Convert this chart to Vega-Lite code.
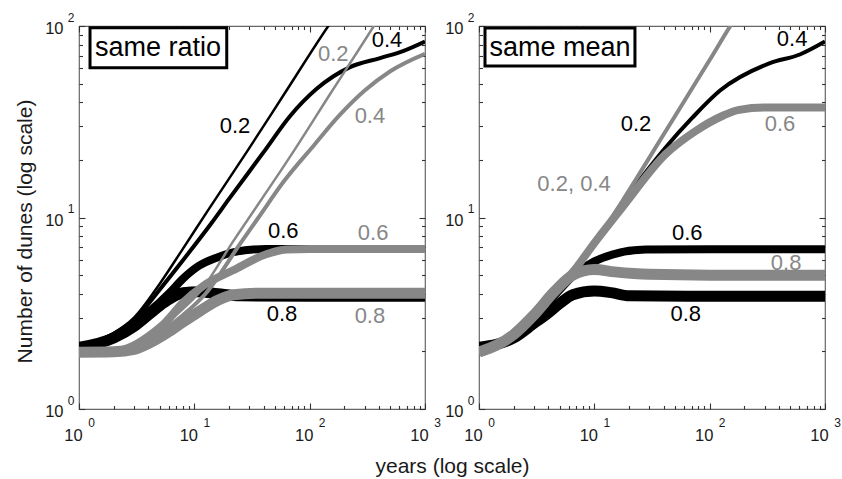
{
  "$schema": "https://vega.github.io/schema/vega-lite/v6.json",
  "background": "white",
  "padding": {"left": 13, "top": 10, "right": 0, "bottom": 0},
  "bounds": "flush",
  "spacing": 54,
  "config": {
    "font": "Liberation Sans",
    "view": {"stroke": "#666666", "strokeWidth": 1.2},
    "axis": {"grid": false, "domain": false, "labelColor": "#1a1a1a", "titleColor": "#1a1a1a", "tickColor": "#333333", "tickWidth": 1.1, "labelFlush": false, "labelOverlap": false, "labelBound": false}
  },
  "datasets": {
    "lines": [
      {"panel": "L", "group": "black", "ratio": "0.2", "x": 1, "y": 2.1},
      {"panel": "L", "group": "black", "ratio": "0.2", "x": 1.5, "y": 2.3},
      {"panel": "L", "group": "black", "ratio": "0.2", "x": 2, "y": 2.5},
      {"panel": "L", "group": "black", "ratio": "0.2", "x": 3, "y": 3.0},
      {"panel": "L", "group": "black", "ratio": "0.2", "x": 5, "y": 4.5},
      {"panel": "L", "group": "black", "ratio": "0.2", "x": 8, "y": 6.9},
      {"panel": "L", "group": "black", "ratio": "0.2", "x": 13, "y": 10.8},
      {"panel": "L", "group": "black", "ratio": "0.2", "x": 28.5, "y": 22},
      {"panel": "L", "group": "black", "ratio": "0.2", "x": 60, "y": 44},
      {"panel": "L", "group": "black", "ratio": "0.2", "x": 145, "y": 100},
      {"panel": "L", "group": "black", "ratio": "0.2", "x": 170, "y": 115},

      {"panel": "L", "group": "black", "ratio": "0.4", "x": 1, "y": 2.1},
      {"panel": "L", "group": "black", "ratio": "0.4", "x": 1.5, "y": 2.28},
      {"panel": "L", "group": "black", "ratio": "0.4", "x": 2, "y": 2.45},
      {"panel": "L", "group": "black", "ratio": "0.4", "x": 3, "y": 2.9},
      {"panel": "L", "group": "black", "ratio": "0.4", "x": 5, "y": 4.2},
      {"panel": "L", "group": "black", "ratio": "0.4", "x": 8, "y": 6.0},
      {"panel": "L", "group": "black", "ratio": "0.4", "x": 14, "y": 9.3},
      {"panel": "L", "group": "black", "ratio": "0.4", "x": 20, "y": 12.5},
      {"panel": "L", "group": "black", "ratio": "0.4", "x": 40, "y": 22},
      {"panel": "L", "group": "black", "ratio": "0.4", "x": 68, "y": 34},
      {"panel": "L", "group": "black", "ratio": "0.4", "x": 115, "y": 47},
      {"panel": "L", "group": "black", "ratio": "0.4", "x": 224, "y": 61},
      {"panel": "L", "group": "black", "ratio": "0.4", "x": 408, "y": 68},
      {"panel": "L", "group": "black", "ratio": "0.4", "x": 645, "y": 74},
      {"panel": "L", "group": "black", "ratio": "0.4", "x": 1000, "y": 83},

      {"panel": "L", "group": "black", "ratio": "0.6", "x": 1, "y": 2.1},
      {"panel": "L", "group": "black", "ratio": "0.6", "x": 2, "y": 2.4},
      {"panel": "L", "group": "black", "ratio": "0.6", "x": 3, "y": 2.8},
      {"panel": "L", "group": "black", "ratio": "0.6", "x": 4, "y": 3.2},
      {"panel": "L", "group": "black", "ratio": "0.6", "x": 6, "y": 4.0},
      {"panel": "L", "group": "black", "ratio": "0.6", "x": 8, "y": 4.8},
      {"panel": "L", "group": "black", "ratio": "0.6", "x": 11, "y": 5.6},
      {"panel": "L", "group": "black", "ratio": "0.6", "x": 16, "y": 6.2},
      {"panel": "L", "group": "black", "ratio": "0.6", "x": 22, "y": 6.6},
      {"panel": "L", "group": "black", "ratio": "0.6", "x": 42, "y": 6.85},
      {"panel": "L", "group": "black", "ratio": "0.6", "x": 100, "y": 6.85},
      {"panel": "L", "group": "black", "ratio": "0.6", "x": 1000, "y": 6.85},

      {"panel": "L", "group": "black", "ratio": "0.8", "x": 1, "y": 2.1},
      {"panel": "L", "group": "black", "ratio": "0.8", "x": 2, "y": 2.35},
      {"panel": "L", "group": "black", "ratio": "0.8", "x": 3, "y": 2.7},
      {"panel": "L", "group": "black", "ratio": "0.8", "x": 4, "y": 3.1},
      {"panel": "L", "group": "black", "ratio": "0.8", "x": 5.5, "y": 3.6},
      {"panel": "L", "group": "black", "ratio": "0.8", "x": 8, "y": 4.05},
      {"panel": "L", "group": "black", "ratio": "0.8", "x": 11, "y": 4.1},
      {"panel": "L", "group": "black", "ratio": "0.8", "x": 16, "y": 4.0},
      {"panel": "L", "group": "black", "ratio": "0.8", "x": 25, "y": 3.9},
      {"panel": "L", "group": "black", "ratio": "0.8", "x": 100, "y": 3.88},
      {"panel": "L", "group": "black", "ratio": "0.8", "x": 1000, "y": 3.88},

      {"panel": "L", "group": "gray", "ratio": "0.2", "x": 1, "y": 1.98},
      {"panel": "L", "group": "gray", "ratio": "0.2", "x": 2, "y": 2.0},
      {"panel": "L", "group": "gray", "ratio": "0.2", "x": 3, "y": 2.1},
      {"panel": "L", "group": "gray", "ratio": "0.2", "x": 5, "y": 2.55},
      {"panel": "L", "group": "gray", "ratio": "0.2", "x": 7, "y": 3.1},
      {"panel": "L", "group": "gray", "ratio": "0.2", "x": 11.2, "y": 4.1},
      {"panel": "L", "group": "gray", "ratio": "0.2", "x": 21.7, "y": 7.5},
      {"panel": "L", "group": "gray", "ratio": "0.2", "x": 72, "y": 22},
      {"panel": "L", "group": "gray", "ratio": "0.2", "x": 150, "y": 44},
      {"panel": "L", "group": "gray", "ratio": "0.2", "x": 360, "y": 100},
      {"panel": "L", "group": "gray", "ratio": "0.2", "x": 420, "y": 116},

      {"panel": "L", "group": "gray", "ratio": "0.4", "x": 1, "y": 1.98},
      {"panel": "L", "group": "gray", "ratio": "0.4", "x": 2, "y": 2.0},
      {"panel": "L", "group": "gray", "ratio": "0.4", "x": 3, "y": 2.1},
      {"panel": "L", "group": "gray", "ratio": "0.4", "x": 5, "y": 2.5},
      {"panel": "L", "group": "gray", "ratio": "0.4", "x": 8, "y": 3.1},
      {"panel": "L", "group": "gray", "ratio": "0.4", "x": 12.5, "y": 4.0},
      {"panel": "L", "group": "gray", "ratio": "0.4", "x": 25, "y": 7.3},
      {"panel": "L", "group": "gray", "ratio": "0.4", "x": 36, "y": 10},
      {"panel": "L", "group": "gray", "ratio": "0.4", "x": 60, "y": 15.5},
      {"panel": "L", "group": "gray", "ratio": "0.4", "x": 110, "y": 24},
      {"panel": "L", "group": "gray", "ratio": "0.4", "x": 180, "y": 34},
      {"panel": "L", "group": "gray", "ratio": "0.4", "x": 300, "y": 46},
      {"panel": "L", "group": "gray", "ratio": "0.4", "x": 500, "y": 58},
      {"panel": "L", "group": "gray", "ratio": "0.4", "x": 1000, "y": 71.5},

      {"panel": "L", "group": "gray", "ratio": "0.6", "x": 1, "y": 1.98},
      {"panel": "L", "group": "gray", "ratio": "0.6", "x": 2, "y": 2.0},
      {"panel": "L", "group": "gray", "ratio": "0.6", "x": 3, "y": 2.15},
      {"panel": "L", "group": "gray", "ratio": "0.6", "x": 4, "y": 2.4},
      {"panel": "L", "group": "gray", "ratio": "0.6", "x": 5.5, "y": 2.8},
      {"panel": "L", "group": "gray", "ratio": "0.6", "x": 8, "y": 3.6},
      {"panel": "L", "group": "gray", "ratio": "0.6", "x": 12, "y": 4.4},
      {"panel": "L", "group": "gray", "ratio": "0.6", "x": 21.7, "y": 5.3},
      {"panel": "L", "group": "gray", "ratio": "0.6", "x": 42.6, "y": 6.45},
      {"panel": "L", "group": "gray", "ratio": "0.6", "x": 63, "y": 6.8},
      {"panel": "L", "group": "gray", "ratio": "0.6", "x": 100, "y": 6.85},
      {"panel": "L", "group": "gray", "ratio": "0.6", "x": 1000, "y": 6.85},

      {"panel": "L", "group": "gray", "ratio": "0.8", "x": 1, "y": 1.98},
      {"panel": "L", "group": "gray", "ratio": "0.8", "x": 2, "y": 1.99},
      {"panel": "L", "group": "gray", "ratio": "0.8", "x": 3, "y": 2.05},
      {"panel": "L", "group": "gray", "ratio": "0.8", "x": 4, "y": 2.2},
      {"panel": "L", "group": "gray", "ratio": "0.8", "x": 5.8, "y": 2.5},
      {"panel": "L", "group": "gray", "ratio": "0.8", "x": 8, "y": 2.85},
      {"panel": "L", "group": "gray", "ratio": "0.8", "x": 11.2, "y": 3.25},
      {"panel": "L", "group": "gray", "ratio": "0.8", "x": 16, "y": 3.7},
      {"panel": "L", "group": "gray", "ratio": "0.8", "x": 22, "y": 3.95},
      {"panel": "L", "group": "gray", "ratio": "0.8", "x": 35, "y": 4.02},
      {"panel": "L", "group": "gray", "ratio": "0.8", "x": 100, "y": 4.02},
      {"panel": "L", "group": "gray", "ratio": "0.8", "x": 1000, "y": 4.02},

      {"panel": "R", "group": "black", "ratio": "0.2", "x": 1, "y": 2.05},
      {"panel": "R", "group": "black", "ratio": "0.2", "x": 2, "y": 2.45},
      {"panel": "R", "group": "black", "ratio": "0.2", "x": 3, "y": 3.1},
      {"panel": "R", "group": "black", "ratio": "0.2", "x": 4.5, "y": 4.1},
      {"panel": "R", "group": "black", "ratio": "0.2", "x": 6.45, "y": 5.15},
      {"panel": "R", "group": "black", "ratio": "0.2", "x": 10, "y": 7.3},
      {"panel": "R", "group": "black", "ratio": "0.2", "x": 17.5, "y": 12.2},
      {"panel": "R", "group": "black", "ratio": "0.2", "x": 40, "y": 27.2},
      {"panel": "R", "group": "black", "ratio": "0.2", "x": 98.7, "y": 65.6},
      {"panel": "R", "group": "black", "ratio": "0.2", "x": 151, "y": 100},
      {"panel": "R", "group": "black", "ratio": "0.2", "x": 170, "y": 112},

      {"panel": "R", "group": "black", "ratio": "0.4", "x": 1, "y": 2.1},
      {"panel": "R", "group": "black", "ratio": "0.4", "x": 2, "y": 2.45},
      {"panel": "R", "group": "black", "ratio": "0.4", "x": 3, "y": 3.1},
      {"panel": "R", "group": "black", "ratio": "0.4", "x": 4.5, "y": 4.1},
      {"panel": "R", "group": "black", "ratio": "0.4", "x": 6.45, "y": 5.15},
      {"panel": "R", "group": "black", "ratio": "0.4", "x": 10, "y": 7.4},
      {"panel": "R", "group": "black", "ratio": "0.4", "x": 17.5, "y": 11.8},
      {"panel": "R", "group": "black", "ratio": "0.4", "x": 25, "y": 15.8},
      {"panel": "R", "group": "black", "ratio": "0.4", "x": 41.5, "y": 23.2},
      {"panel": "R", "group": "black", "ratio": "0.4", "x": 70.8, "y": 33.2},
      {"panel": "R", "group": "black", "ratio": "0.4", "x": 123, "y": 46},
      {"panel": "R", "group": "black", "ratio": "0.4", "x": 333, "y": 64},
      {"panel": "R", "group": "black", "ratio": "0.4", "x": 605, "y": 71},
      {"panel": "R", "group": "black", "ratio": "0.4", "x": 1000, "y": 83},

      {"panel": "R", "group": "black", "ratio": "0.6", "x": 1, "y": 2.1},
      {"panel": "R", "group": "black", "ratio": "0.6", "x": 2, "y": 2.4},
      {"panel": "R", "group": "black", "ratio": "0.6", "x": 3, "y": 3.0},
      {"panel": "R", "group": "black", "ratio": "0.6", "x": 4.5, "y": 3.9},
      {"panel": "R", "group": "black", "ratio": "0.6", "x": 6.9, "y": 5.1},
      {"panel": "R", "group": "black", "ratio": "0.6", "x": 10, "y": 5.9},
      {"panel": "R", "group": "black", "ratio": "0.6", "x": 14.3, "y": 6.4},
      {"panel": "R", "group": "black", "ratio": "0.6", "x": 28, "y": 6.8},
      {"panel": "R", "group": "black", "ratio": "0.6", "x": 100, "y": 6.82},
      {"panel": "R", "group": "black", "ratio": "0.6", "x": 1000, "y": 6.82},

      {"panel": "R", "group": "black", "ratio": "0.8", "x": 1, "y": 2.1},
      {"panel": "R", "group": "black", "ratio": "0.8", "x": 2, "y": 2.35},
      {"panel": "R", "group": "black", "ratio": "0.8", "x": 3, "y": 2.8},
      {"panel": "R", "group": "black", "ratio": "0.8", "x": 3.8, "y": 3.1},
      {"panel": "R", "group": "black", "ratio": "0.8", "x": 5, "y": 3.55},
      {"panel": "R", "group": "black", "ratio": "0.8", "x": 6.5, "y": 3.95},
      {"panel": "R", "group": "black", "ratio": "0.8", "x": 10, "y": 4.13},
      {"panel": "R", "group": "black", "ratio": "0.8", "x": 14, "y": 4.05},
      {"panel": "R", "group": "black", "ratio": "0.8", "x": 20, "y": 3.9},
      {"panel": "R", "group": "black", "ratio": "0.8", "x": 100, "y": 3.88},
      {"panel": "R", "group": "black", "ratio": "0.8", "x": 1000, "y": 3.88},

      {"panel": "R", "group": "gray", "ratio": "0.2", "x": 1, "y": 1.98},
      {"panel": "R", "group": "gray", "ratio": "0.2", "x": 2, "y": 2.45},
      {"panel": "R", "group": "gray", "ratio": "0.2", "x": 3, "y": 3.1},
      {"panel": "R", "group": "gray", "ratio": "0.2", "x": 4.5, "y": 4.1},
      {"panel": "R", "group": "gray", "ratio": "0.2", "x": 6.45, "y": 5.15},
      {"panel": "R", "group": "gray", "ratio": "0.2", "x": 10, "y": 7.3},
      {"panel": "R", "group": "gray", "ratio": "0.2", "x": 17.5, "y": 12.2},
      {"panel": "R", "group": "gray", "ratio": "0.2", "x": 40, "y": 27.2},
      {"panel": "R", "group": "gray", "ratio": "0.2", "x": 98.7, "y": 65.6},
      {"panel": "R", "group": "gray", "ratio": "0.2", "x": 151, "y": 100},
      {"panel": "R", "group": "gray", "ratio": "0.2", "x": 170, "y": 112},

      {"panel": "R", "group": "gray", "ratio": "0.4", "x": 1, "y": 1.98},
      {"panel": "R", "group": "gray", "ratio": "0.4", "x": 2, "y": 2.45},
      {"panel": "R", "group": "gray", "ratio": "0.4", "x": 3, "y": 3.1},
      {"panel": "R", "group": "gray", "ratio": "0.4", "x": 4.5, "y": 4.1},
      {"panel": "R", "group": "gray", "ratio": "0.4", "x": 6.45, "y": 5.15},
      {"panel": "R", "group": "gray", "ratio": "0.4", "x": 10, "y": 7.3},
      {"panel": "R", "group": "gray", "ratio": "0.4", "x": 17.5, "y": 12.2},
      {"panel": "R", "group": "gray", "ratio": "0.4", "x": 40, "y": 27.2},
      {"panel": "R", "group": "gray", "ratio": "0.4", "x": 98.7, "y": 65.6},
      {"panel": "R", "group": "gray", "ratio": "0.4", "x": 151, "y": 100},
      {"panel": "R", "group": "gray", "ratio": "0.4", "x": 170, "y": 112},

      {"panel": "R", "group": "gray", "ratio": "0.6", "x": 1, "y": 1.98},
      {"panel": "R", "group": "gray", "ratio": "0.6", "x": 2, "y": 2.45},
      {"panel": "R", "group": "gray", "ratio": "0.6", "x": 3, "y": 3.1},
      {"panel": "R", "group": "gray", "ratio": "0.6", "x": 4.5, "y": 4.1},
      {"panel": "R", "group": "gray", "ratio": "0.6", "x": 6.45, "y": 5.15},
      {"panel": "R", "group": "gray", "ratio": "0.6", "x": 10, "y": 7.35},
      {"panel": "R", "group": "gray", "ratio": "0.6", "x": 17.5, "y": 11.3},
      {"panel": "R", "group": "gray", "ratio": "0.6", "x": 41.5, "y": 21.4},
      {"panel": "R", "group": "gray", "ratio": "0.6", "x": 75.6, "y": 28.3},
      {"panel": "R", "group": "gray", "ratio": "0.6", "x": 130, "y": 34},
      {"panel": "R", "group": "gray", "ratio": "0.6", "x": 180, "y": 36.5},
      {"panel": "R", "group": "gray", "ratio": "0.6", "x": 300, "y": 37.5},
      {"panel": "R", "group": "gray", "ratio": "0.6", "x": 1000, "y": 37.5},

      {"panel": "R", "group": "gray", "ratio": "0.8", "x": 1, "y": 1.98},
      {"panel": "R", "group": "gray", "ratio": "0.8", "x": 2, "y": 2.45},
      {"panel": "R", "group": "gray", "ratio": "0.8", "x": 3, "y": 3.1},
      {"panel": "R", "group": "gray", "ratio": "0.8", "x": 4.5, "y": 4.1},
      {"panel": "R", "group": "gray", "ratio": "0.8", "x": 6.5, "y": 5.0},
      {"panel": "R", "group": "gray", "ratio": "0.8", "x": 10, "y": 5.35},
      {"panel": "R", "group": "gray", "ratio": "0.8", "x": 15, "y": 5.2},
      {"panel": "R", "group": "gray", "ratio": "0.8", "x": 30, "y": 5.05},
      {"panel": "R", "group": "gray", "ratio": "0.8", "x": 100, "y": 5.0},
      {"panel": "R", "group": "gray", "ratio": "0.8", "x": 1000, "y": 5.0}
    ],
    "labels": [
      {"panel": "L", "group": "black", "text": "0.2", "x": 22.5, "y": 30},
      {"panel": "L", "group": "gray", "text": "0.2", "x": 160, "y": 71},
      {"panel": "L", "group": "black", "text": "0.4", "x": 468, "y": 84.5},
      {"panel": "L", "group": "gray", "text": "0.4", "x": 333, "y": 34},
      {"panel": "L", "group": "black", "text": "0.6", "x": 59, "y": 8.5},
      {"panel": "L", "group": "gray", "text": "0.6", "x": 355, "y": 8.3},
      {"panel": "L", "group": "black", "text": "0.8", "x": 57.6, "y": 3.13},
      {"panel": "L", "group": "gray", "text": "0.8", "x": 333, "y": 3.06},
      {"panel": "R", "group": "black", "text": "0.4", "x": 519, "y": 85.5},
      {"panel": "R", "group": "black", "text": "0.2", "x": 23, "y": 30.7},
      {"panel": "R", "group": "gray", "text": "0.6", "x": 407, "y": 30.8},
      {"panel": "R", "group": "gray", "text": "0.2, 0.4", "x": 6.67, "y": 14.9},
      {"panel": "R", "group": "black", "text": "0.6", "x": 64, "y": 8.33},
      {"panel": "R", "group": "gray", "text": "0.8", "x": 460, "y": 5.8},
      {"panel": "R", "group": "black", "text": "0.8", "x": 62, "y": 3.12}
    ],
    "boxes": [
      {"panel": "L", "text": "same ratio", "x1": 1.246, "x2": 19.1, "y1": 98, "y2": 60.6, "tx": 4.84, "ty": 76.7},
      {"panel": "R", "text": "same mean", "x1": 1.127, "x2": 22.5, "y1": 97.7, "y2": 61.8, "tx": 5.04, "ty": 76.7}
    ]
  },
  "hconcat": [
    {
      "width": 346,
      "height": 383,
      "resolve": {"axis": {"x": "independent", "y": "independent"}},
      "layer": [
        {
          "data": {"name": "lines"},
          "transform": [{"filter": "datum.panel == 'L' && datum.group == 'black'"}],
          "mark": {"type": "line", "clip": true, "interpolate": "monotone", "strokeCap": "butt", "strokeJoin": "round"},
          "encoding": {
            "x": {"field": "x", "type": "quantitative", "scale": {"type": "log", "domain": [1, 1000]},
              "axis": {"orient": "bottom", "values": [1, 10, 100, 1000], "labelExpr": "'10'", "ticks": false, "labelFontSize": 16.5, "labelPadding": 18, "labelOffset": -6,
                "title": "years (log scale)", "titleFontSize": 21, "titleFontWeight": "normal", "titleX": 373, "titleY": 63, "titleBaseline": "alphabetic"}},
            "y": {"field": "y", "type": "quantitative", "scale": {"type": "log", "domain": [1, 100]},
              "axis": {"orient": "left", "values": [1, 10, 100], "labelExpr": "'10'", "ticks": false, "labelFontSize": 16.5, "labelPadding": 16, "labelOffset": 2.5,
                "title": "Number of dunes (log scale)", "titleFontSize": 21, "titleFontWeight": "normal", "titleX": -48, "titleY": 205, "titleBaseline": "alphabetic", "titleAngle": -90}},
            "detail": {"field": "ratio"},
            "color": {"field": "group", "type": "nominal", "scale": {"domain": ["black", "gray"], "range": ["#000000", "#878787"]}, "legend": null},
            "strokeWidth": {"field": "ratio", "type": "ordinal", "scale": {"type": "ordinal", "domain": ["0.2", "0.4", "0.6", "0.8"], "range": [2.5, 4, 8, 11]}, "legend": null}
          }
        },
        {
          "data": {"name": "lines"},
          "transform": [{"filter": "datum.panel == 'L' && datum.group == 'gray'"}],
          "mark": {"type": "line", "clip": true, "interpolate": "monotone", "strokeCap": "butt", "strokeJoin": "round"},
          "encoding": {
            "x": {"field": "x", "type": "quantitative", "scale": {"type": "log", "domain": [1, 1000]},
              "axis": {"orient": "bottom", "values": [1, 10, 100, 1000], "labelExpr": "datum.value == 1 ? '0' : datum.value == 10 ? '1' : datum.value == 100 ? '2' : '3'", "ticks": false, "labelFontSize": 12, "labelPadding": 8, "labelOffset": 12, "title": null}},
            "y": {"field": "y", "type": "quantitative", "scale": {"type": "log", "domain": [1, 100]},
              "axis": {"orient": "left", "values": [1, 10, 100], "labelExpr": "datum.value == 1 ? '0' : datum.value == 10 ? '1' : '2'", "ticks": false, "labelFontSize": 12, "labelPadding": 5, "labelOffset": -9, "title": null}},
            "detail": {"field": "ratio"},
            "color": {"field": "group", "type": "nominal", "scale": {"domain": ["black", "gray"], "range": ["#000000", "#878787"]}, "legend": null},
            "strokeWidth": {"field": "ratio", "type": "ordinal", "scale": {"type": "ordinal", "domain": ["0.2", "0.4", "0.6", "0.8"], "range": [2.5, 4, 8, 11]}, "legend": null}
          }
        },
        {
          "data": {"name": "boxes"},
          "transform": [{"filter": "datum.panel == 'L'"}],
          "mark": {"type": "rect", "fill": "white", "stroke": "black", "strokeWidth": 3},
          "encoding": {
            "x": {"field": "x1", "type": "quantitative", "scale": {"type": "log", "domain": [1, 1000]},
              "axis": {"orient": "bottom", "values": [1, 2, 3, 4, 5, 6, 7, 8, 9, 10, 20, 30, 40, 50, 60, 70, 80, 90, 100, 200, 300, 400, 500, 600, 700, 800, 900, 1000], "labels": false, "title": null,
                "tickSize": {"condition": {"test": "datum.value == 1 || datum.value == 10 || datum.value == 100 || datum.value == 1000", "value": -6}, "value": -3.5}}},
            "x2": {"field": "x2"},
            "y": {"field": "y1", "type": "quantitative", "scale": {"type": "log", "domain": [1, 100]},
              "axis": {"orient": "left", "values": [1, 2, 3, 4, 5, 6, 7, 8, 9, 10, 20, 30, 40, 50, 60, 70, 80, 90, 100], "labels": false, "title": null,
                "tickSize": {"condition": {"test": "datum.value == 1 || datum.value == 10 || datum.value == 100", "value": -6}, "value": -3.5}}},
            "y2": {"field": "y2"}
          }
        },
        {
          "data": {"name": "boxes"},
          "transform": [{"filter": "datum.panel == 'L'"}],
          "mark": {"type": "text", "fontSize": 27, "color": "black", "align": "center", "baseline": "middle"},
          "encoding": {
            "x": {"field": "tx", "type": "quantitative", "scale": {"type": "log", "domain": [1, 1000]},
              "axis": {"orient": "top", "values": [1, 2, 3, 4, 5, 6, 7, 8, 9, 10, 20, 30, 40, 50, 60, 70, 80, 90, 100, 200, 300, 400, 500, 600, 700, 800, 900, 1000], "labels": false, "title": null,
                "tickSize": {"condition": {"test": "datum.value == 1 || datum.value == 10 || datum.value == 100 || datum.value == 1000", "value": -6}, "value": -3.5}}},
            "y": {"field": "ty", "type": "quantitative", "scale": {"type": "log", "domain": [1, 100]},
              "axis": {"orient": "right", "values": [1, 2, 3, 4, 5, 6, 7, 8, 9, 10, 20, 30, 40, 50, 60, 70, 80, 90, 100], "labels": false, "title": null,
                "tickSize": {"condition": {"test": "datum.value == 1 || datum.value == 10 || datum.value == 100", "value": -6}, "value": -3.5}}},
            "text": {"field": "text"}
          }
        },
        {
          "data": {"name": "labels"},
          "transform": [{"filter": "datum.panel == 'L'"}],
          "mark": {"type": "text", "fontSize": 22, "align": "center", "baseline": "middle"},
          "encoding": {
            "x": {"field": "x", "type": "quantitative", "scale": {"type": "log", "domain": [1, 1000]}, "axis": null},
            "y": {"field": "y", "type": "quantitative", "scale": {"type": "log", "domain": [1, 100]}, "axis": null},
            "text": {"field": "text"},
            "color": {"field": "group", "type": "nominal", "scale": {"domain": ["black", "gray"], "range": ["#000000", "#878787"]}, "legend": null}
          }
        }
      ]
    },
    {
      "width": 346,
      "height": 383,
      "resolve": {"axis": {"x": "independent", "y": "independent"}},
      "layer": [
        {
          "data": {"name": "lines"},
          "transform": [{"filter": "datum.panel == 'R' && datum.group == 'black'"}],
          "mark": {"type": "line", "clip": true, "interpolate": "monotone", "strokeCap": "butt", "strokeJoin": "round"},
          "encoding": {
            "x": {"field": "x", "type": "quantitative", "scale": {"type": "log", "domain": [1, 1000]},
              "axis": {"orient": "bottom", "values": [1, 10, 100, 1000], "labelExpr": "'10'", "ticks": false, "labelFontSize": 16.5, "labelPadding": 18, "labelOffset": -6, "title": null}},
            "y": {"field": "y", "type": "quantitative", "scale": {"type": "log", "domain": [1, 100]},
              "axis": {"orient": "left", "values": [1, 10, 100], "labelExpr": "'10'", "ticks": false, "labelFontSize": 16.5, "labelPadding": 16, "labelOffset": 2.5, "title": null}},
            "detail": {"field": "ratio"},
            "color": {"field": "group", "type": "nominal", "scale": {"domain": ["black", "gray"], "range": ["#000000", "#878787"]}, "legend": null},
            "strokeWidth": {"field": "ratio", "type": "ordinal", "scale": {"type": "ordinal", "domain": ["0.2", "0.4", "0.6", "0.8"], "range": [2.5, 4, 8, 11]}, "legend": null}
          }
        },
        {
          "data": {"name": "lines"},
          "transform": [{"filter": "datum.panel == 'R' && datum.group == 'gray'"}],
          "mark": {"type": "line", "clip": true, "interpolate": "monotone", "strokeCap": "butt", "strokeJoin": "round"},
          "encoding": {
            "x": {"field": "x", "type": "quantitative", "scale": {"type": "log", "domain": [1, 1000]},
              "axis": {"orient": "bottom", "values": [1, 10, 100, 1000], "labelExpr": "datum.value == 1 ? '0' : datum.value == 10 ? '1' : datum.value == 100 ? '2' : '3'", "ticks": false, "labelFontSize": 12, "labelPadding": 8, "labelOffset": 12, "title": null}},
            "y": {"field": "y", "type": "quantitative", "scale": {"type": "log", "domain": [1, 100]},
              "axis": {"orient": "left", "values": [1, 10, 100], "labelExpr": "datum.value == 1 ? '0' : datum.value == 10 ? '1' : '2'", "ticks": false, "labelFontSize": 12, "labelPadding": 5, "labelOffset": -9, "title": null}},
            "detail": {"field": "ratio"},
            "color": {"field": "group", "type": "nominal", "scale": {"domain": ["black", "gray"], "range": ["#000000", "#878787"]}, "legend": null},
            "strokeWidth": {"field": "ratio", "type": "ordinal", "scale": {"type": "ordinal", "domain": ["0.2", "0.4", "0.6", "0.8"], "range": [2.5, 4, 8, 11]}, "legend": null}
          }
        },
        {
          "data": {"name": "boxes"},
          "transform": [{"filter": "datum.panel == 'R'"}],
          "mark": {"type": "rect", "fill": "white", "stroke": "black", "strokeWidth": 3},
          "encoding": {
            "x": {"field": "x1", "type": "quantitative", "scale": {"type": "log", "domain": [1, 1000]},
              "axis": {"orient": "bottom", "values": [1, 2, 3, 4, 5, 6, 7, 8, 9, 10, 20, 30, 40, 50, 60, 70, 80, 90, 100, 200, 300, 400, 500, 600, 700, 800, 900, 1000], "labels": false, "title": null,
                "tickSize": {"condition": {"test": "datum.value == 1 || datum.value == 10 || datum.value == 100 || datum.value == 1000", "value": -6}, "value": -3.5}}},
            "x2": {"field": "x2"},
            "y": {"field": "y1", "type": "quantitative", "scale": {"type": "log", "domain": [1, 100]},
              "axis": {"orient": "left", "values": [1, 2, 3, 4, 5, 6, 7, 8, 9, 10, 20, 30, 40, 50, 60, 70, 80, 90, 100], "labels": false, "title": null,
                "tickSize": {"condition": {"test": "datum.value == 1 || datum.value == 10 || datum.value == 100", "value": -6}, "value": -3.5}}},
            "y2": {"field": "y2"}
          }
        },
        {
          "data": {"name": "boxes"},
          "transform": [{"filter": "datum.panel == 'R'"}],
          "mark": {"type": "text", "fontSize": 27, "color": "black", "align": "center", "baseline": "middle"},
          "encoding": {
            "x": {"field": "tx", "type": "quantitative", "scale": {"type": "log", "domain": [1, 1000]},
              "axis": {"orient": "top", "values": [1, 2, 3, 4, 5, 6, 7, 8, 9, 10, 20, 30, 40, 50, 60, 70, 80, 90, 100, 200, 300, 400, 500, 600, 700, 800, 900, 1000], "labels": false, "title": null,
                "tickSize": {"condition": {"test": "datum.value == 1 || datum.value == 10 || datum.value == 100 || datum.value == 1000", "value": -6}, "value": -3.5}}},
            "y": {"field": "ty", "type": "quantitative", "scale": {"type": "log", "domain": [1, 100]},
              "axis": {"orient": "right", "values": [1, 2, 3, 4, 5, 6, 7, 8, 9, 10, 20, 30, 40, 50, 60, 70, 80, 90, 100], "labels": false, "title": null,
                "tickSize": {"condition": {"test": "datum.value == 1 || datum.value == 10 || datum.value == 100", "value": -6}, "value": -3.5}}},
            "text": {"field": "text"}
          }
        },
        {
          "data": {"name": "labels"},
          "transform": [{"filter": "datum.panel == 'R'"}],
          "mark": {"type": "text", "fontSize": 22, "align": "center", "baseline": "middle"},
          "encoding": {
            "x": {"field": "x", "type": "quantitative", "scale": {"type": "log", "domain": [1, 1000]}, "axis": null},
            "y": {"field": "y", "type": "quantitative", "scale": {"type": "log", "domain": [1, 100]}, "axis": null},
            "text": {"field": "text"},
            "color": {"field": "group", "type": "nominal", "scale": {"domain": ["black", "gray"], "range": ["#000000", "#878787"]}, "legend": null}
          }
        }
      ]
    }
  ]
}
